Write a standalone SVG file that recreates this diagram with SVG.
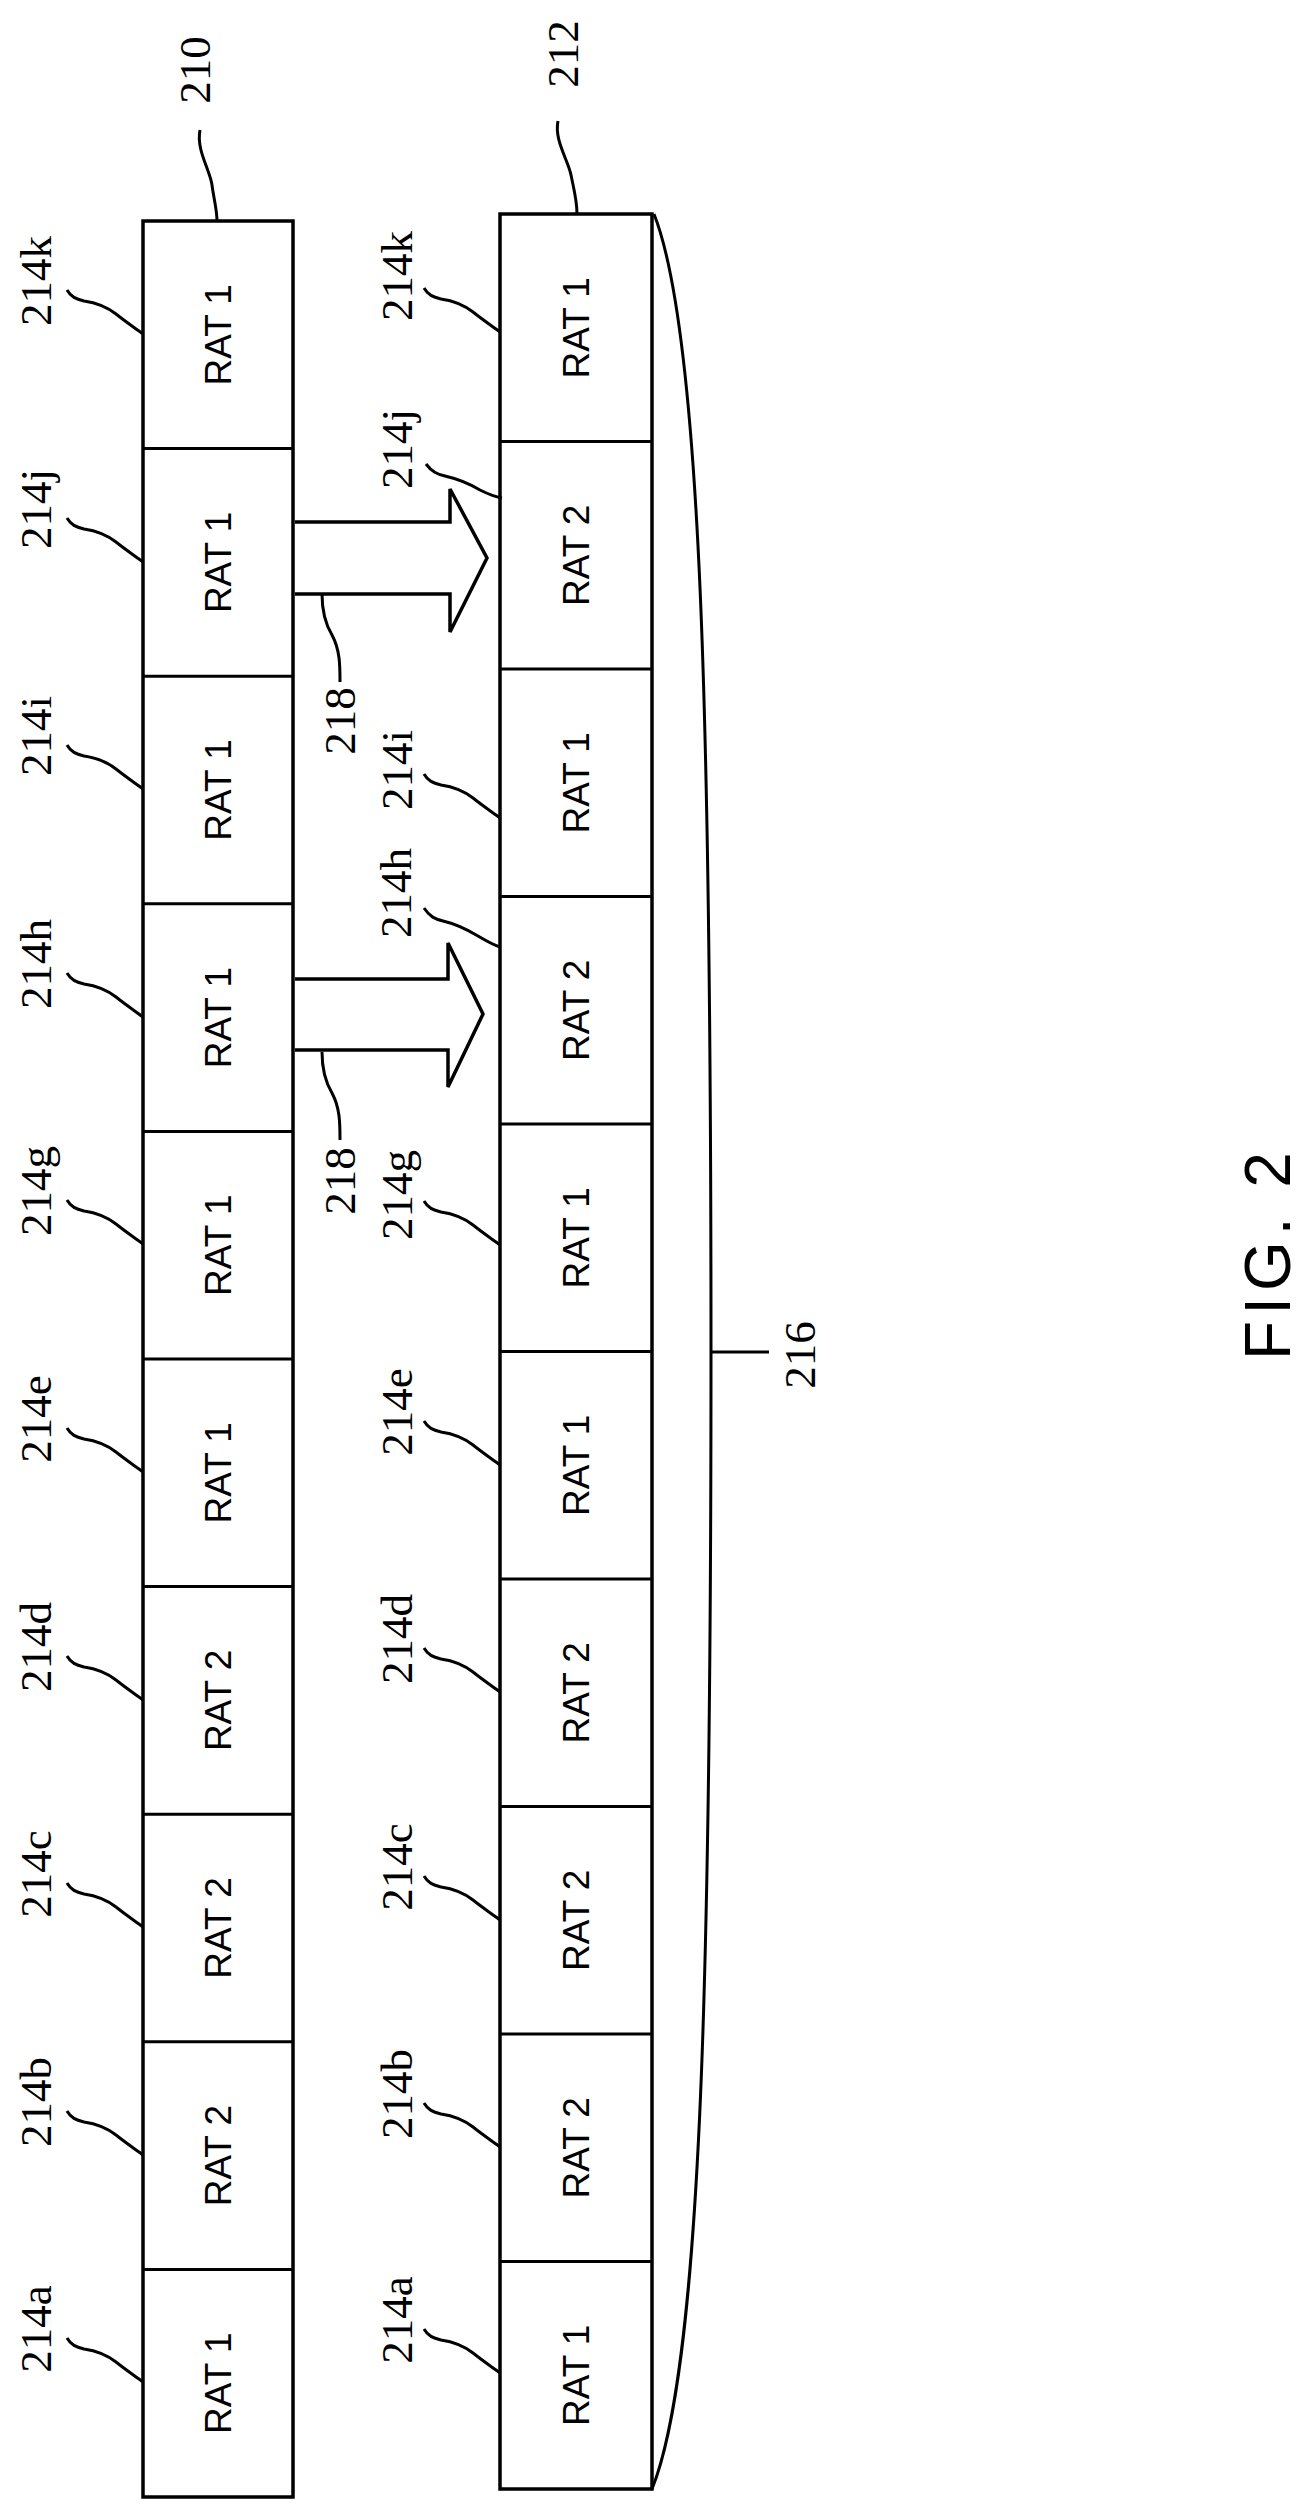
<svg xmlns="http://www.w3.org/2000/svg" xmlns:xlink="http://www.w3.org/1999/xlink" width="1311" height="2519" viewBox="0 0 1311 2519">
<style>
.ln{fill:none;stroke:#000;stroke-width:3}
.box{fill:#fff;stroke:#000;stroke-width:3.5}
.rat{font-family:"Liberation Sans",Arial,sans-serif;font-size:37px;text-anchor:middle;dominant-baseline:central}
.lbl{font-family:"Liberation Serif","Times New Roman",serif;font-size:45px;text-anchor:middle;dominant-baseline:central}
.fig{font-family:"Liberation Sans",Arial,sans-serif;font-size:64px;letter-spacing:6px;text-anchor:middle;dominant-baseline:central}
</style>
<defs>
<path id="sq" class="ln" d="M-76,-44 C-72,-37 -67,-35 -59,-33 C-45,-31 -36,-27 -27,-20 C-17,-12 -8,-6 0,0"/>
</defs>
<rect width="1311" height="2519" fill="#fff"/>
<g id="frame210">
<rect class="box" x="143" y="221" width="150" height="2276"/>
<path class="ln" d="M200,130 C196,150 210,170 212,185 C214,200 217,210 217,221"/>
<text class="lbl" transform="translate(195,70) rotate(-90)">210</text>
</g>
<g id="frame212">
<rect class="box" x="500" y="214" width="152" height="2275"/>
<path class="ln" d="M558,121 C554,140 568,160 571,175 C574,190 577,200 577,214"/>
<text class="lbl" transform="translate(563,54) rotate(-90)">212</text>
</g>
<g id="left-cells">
<g id="L214k"><text class="rat" transform="translate(218,334.8) rotate(-90)">RAT 1</text><use href="#sq" x="143" y="334"/><text class="lbl" transform="translate(36,281) rotate(-90)">214k</text></g>
<g id="L214j"><line class="ln" x1="143" y1="448.6" x2="293" y2="448.6"/><text class="rat" transform="translate(218,562.4) rotate(-90)">RAT 1</text><use href="#sq" x="143" y="562"/><text class="lbl" transform="translate(36,509) rotate(-90)">214j</text></g>
<g id="L214i"><line class="ln" x1="143" y1="676.2" x2="293" y2="676.2"/><text class="rat" transform="translate(218,790) rotate(-90)">RAT 1</text><use href="#sq" x="143" y="789"/><text class="lbl" transform="translate(36,736) rotate(-90)">214i</text></g>
<g id="L214h"><line class="ln" x1="143" y1="903.8" x2="293" y2="903.8"/><text class="rat" transform="translate(218,1017.6) rotate(-90)">RAT 1</text><use href="#sq" x="143" y="1017"/><text class="lbl" transform="translate(36,964) rotate(-90)">214h</text></g>
<g id="L214g"><line class="ln" x1="143" y1="1131.4" x2="293" y2="1131.4"/><text class="rat" transform="translate(218,1245.2) rotate(-90)">RAT 1</text><use href="#sq" x="143" y="1244"/><text class="lbl" transform="translate(36,1191) rotate(-90)">214g</text></g>
<g id="L214e"><line class="ln" x1="143" y1="1359" x2="293" y2="1359"/><text class="rat" transform="translate(218,1472.8) rotate(-90)">RAT 1</text><use href="#sq" x="143" y="1472"/><text class="lbl" transform="translate(36,1419) rotate(-90)">214e</text></g>
<g id="L214d"><line class="ln" x1="143" y1="1586.6" x2="293" y2="1586.6"/><text class="rat" transform="translate(218,1700.4) rotate(-90)">RAT 2</text><use href="#sq" x="143" y="1700"/><text class="lbl" transform="translate(36,1647) rotate(-90)">214d</text></g>
<g id="L214c"><line class="ln" x1="143" y1="1814.2" x2="293" y2="1814.2"/><text class="rat" transform="translate(218,1928) rotate(-90)">RAT 2</text><use href="#sq" x="143" y="1927"/><text class="lbl" transform="translate(36,1874) rotate(-90)">214c</text></g>
<g id="L214b"><line class="ln" x1="143" y1="2041.8" x2="293" y2="2041.8"/><text class="rat" transform="translate(218,2155.6) rotate(-90)">RAT 2</text><use href="#sq" x="143" y="2155"/><text class="lbl" transform="translate(36,2102) rotate(-90)">214b</text></g>
<g id="L214a"><line class="ln" x1="143" y1="2269.4" x2="293" y2="2269.4"/><text class="rat" transform="translate(218,2383.2) rotate(-90)">RAT 1</text><use href="#sq" x="143" y="2382"/><text class="lbl" transform="translate(36,2329) rotate(-90)">214a</text></g>
</g>
<g id="right-cells">
<g id="R214k"><text class="rat" transform="translate(576,327.8) rotate(-90)">RAT 1</text><use href="#sq" x="500" y="332"/><text class="lbl" transform="translate(397,276) rotate(-90)">214k</text></g>
<g id="R214j"><line class="ln" x1="500" y1="441.5" x2="652" y2="441.5"/><text class="rat" transform="translate(576,555.3) rotate(-90)">RAT 2</text><path class="ln" d="M426,464 C432,472 437,474 445,476 C458,479 470,484 480,490 C490,495 496,497 502,498"/><text class="lbl" transform="translate(397,449) rotate(-90)">214j</text></g>
<g id="R214i"><line class="ln" x1="500" y1="669" x2="652" y2="669"/><text class="rat" transform="translate(576,782.8) rotate(-90)">RAT 1</text><use href="#sq" x="500" y="818"/><text class="lbl" transform="translate(397,770) rotate(-90)">214i</text></g>
<g id="R214h"><line class="ln" x1="500" y1="896.5" x2="652" y2="896.5"/><text class="rat" transform="translate(576,1010.3) rotate(-90)">RAT 2</text><path class="ln" d="M424,908 C430,917 435,919 443,921 C456,924 468,930 478,936 C488,942 494,945 500,947"/><text class="lbl" transform="translate(396,893) rotate(-90)">214h</text></g>
<g id="R214g"><line class="ln" x1="500" y1="1124" x2="652" y2="1124"/><text class="rat" transform="translate(576,1237.8) rotate(-90)">RAT 1</text><use href="#sq" x="500" y="1245"/><text class="lbl" transform="translate(397,1195) rotate(-90)">214g</text></g>
<g id="R214e"><line class="ln" x1="500" y1="1351.5" x2="652" y2="1351.5"/><text class="rat" transform="translate(576,1465.3) rotate(-90)">RAT 1</text><use href="#sq" x="500" y="1465"/><text class="lbl" transform="translate(397,1412) rotate(-90)">214e</text></g>
<g id="R214d"><line class="ln" x1="500" y1="1579" x2="652" y2="1579"/><text class="rat" transform="translate(576,1692.8) rotate(-90)">RAT 2</text><use href="#sq" x="500" y="1692"/><text class="lbl" transform="translate(397,1639) rotate(-90)">214d</text></g>
<g id="R214c"><line class="ln" x1="500" y1="1806.5" x2="652" y2="1806.5"/><text class="rat" transform="translate(576,1920.3) rotate(-90)">RAT 2</text><use href="#sq" x="500" y="1920"/><text class="lbl" transform="translate(397,1867) rotate(-90)">214c</text></g>
<g id="R214b"><line class="ln" x1="500" y1="2034" x2="652" y2="2034"/><text class="rat" transform="translate(576,2147.8) rotate(-90)">RAT 2</text><use href="#sq" x="500" y="2147"/><text class="lbl" transform="translate(397,2094) rotate(-90)">214b</text></g>
<g id="R214a"><line class="ln" x1="500" y1="2261.5" x2="652" y2="2261.5"/><text class="rat" transform="translate(576,2375.3) rotate(-90)">RAT 1</text><use href="#sq" x="500" y="2373"/><text class="lbl" transform="translate(397,2320) rotate(-90)">214a</text></g>
</g>
<g id="connectors">
<polyline class="box" points="295,522 450,522 450,489 487,558 450,632 450,594 295,594"/>
<polyline class="box" points="295,979 448,979 448,943 483,1014 448,1087 448,1050 295,1050"/>
<path class="ln" d="M322,594 C322,610 326,625 332,635 C340,650 340,665 340,682"/>
<path class="ln" d="M322,1052 C322,1068 326,1083 332,1093 C340,1108 340,1123 340,1140"/>
</g>
<g id="label218a"><text class="lbl" transform="translate(340,721) rotate(-90)">218</text></g>
<g id="label218b"><text class="lbl" transform="translate(340,1181) rotate(-90)">218</text></g>
<g id="brace216">
<path class="ln" d="M654,214 C700,330 711,700 711,1352 C711,2000 700,2370 652,2489"/>
<line class="ln" x1="711" y1="1352" x2="769" y2="1352"/>
<text class="lbl" transform="translate(800,1355) rotate(-90)">216</text>
</g>
<g id="figlabel"><text class="fig" transform="translate(1268,1253) rotate(-90)">FIG. 2</text></g>
</svg>
